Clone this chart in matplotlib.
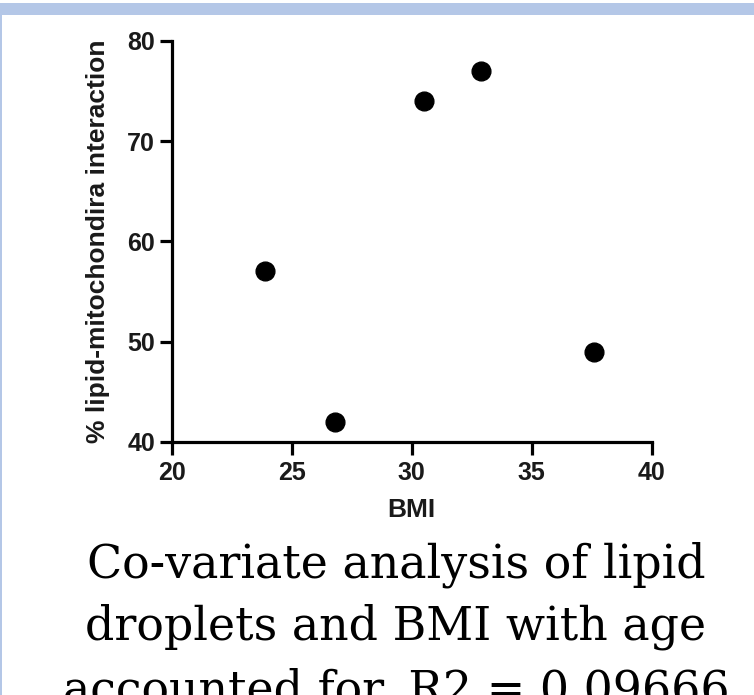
import matplotlib
matplotlib.use("Agg")
import matplotlib.pyplot as plt
from matplotlib.patches import Rectangle

# data
bmi = [23.9, 26.8, 30.5, 32.9, 37.6]
lipid_mito = [57, 42, 74, 77, 49]
x_ticks = [20, 25, 30, 35, 40]
y_ticks = [40, 50, 60, 70, 80]
caption_lines = [
    "Co-variate analysis of lipid",
    "droplets and BMI with age",
    "accounted for. R2 = 0.09666",
]

W, H = 754, 695
band_color = "#b4c7e7"
ink = "#1a1a1a"

fig = plt.figure(figsize=(W / 100, H / 100), dpi=100)
fig.patch.set_facecolor("white")

# light blue frame bits (top band + left edge)
fig.patches.append(Rectangle((0, 1 - 15 / H), 1, 12 / H, transform=fig.transFigure,
                             facecolor=band_color, edgecolor="none", zorder=0))
fig.patches.append(Rectangle((0, 0), 2 / W, 1 - 15 / H, transform=fig.transFigure,
                             facecolor=band_color, edgecolor="none", zorder=0))

ax = fig.add_axes([171.7 / W, 253.3 / H, 480 / W, 400.7 / H])
ax.plot(bmi, lipid_mito, "o", color="black", markersize=13.5, clip_on=False)

ax.set_xlim(x_ticks[0], x_ticks[-1])
ax.set_ylim(y_ticks[0], y_ticks[-1])
ax.set_xticks(x_ticks)
ax.set_yticks(y_ticks)

for side in ["top", "right"]:
    ax.spines[side].set_visible(False)
for side in ["left", "bottom"]:
    ax.spines[side].set_linewidth(2.3)

tick_font = {"family": "Liberation Sans", "weight": "bold", "size": 18}
label_font = {"family": "Liberation Sans", "weight": "bold", "size": 19}
ax.tick_params(width=2.3, length=9, direction="out", colors="black")
ax.tick_params(axis="x", pad=5)
ax.tick_params(axis="y", pad=3)
for lab in ax.get_xticklabels() + ax.get_yticklabels():
    lab.set_fontproperties(tick_font)
    lab.set_color(ink)

ax.set_xlabel("BMI", fontdict=label_font, color=ink)
ax.set_ylabel("% lipid-mitochondira interaction", fontdict=label_font, color=ink)
ax.xaxis.set_label_coords(0.5, -0.14)
ax.yaxis.set_label_coords(-0.1285, 0.5)

# caption underneath, as in the source page (last line runs off the bottom)
baselines = [577, 640, 703]
for line, y in zip(caption_lines, baselines):
    fig.text(396 / W, 1 - y / H, line, ha="center", va="baseline",
             family="DejaVu Serif", fontsize=33, color="black")

fig.savefig("out.png", dpi=100)
plt.close(fig)
